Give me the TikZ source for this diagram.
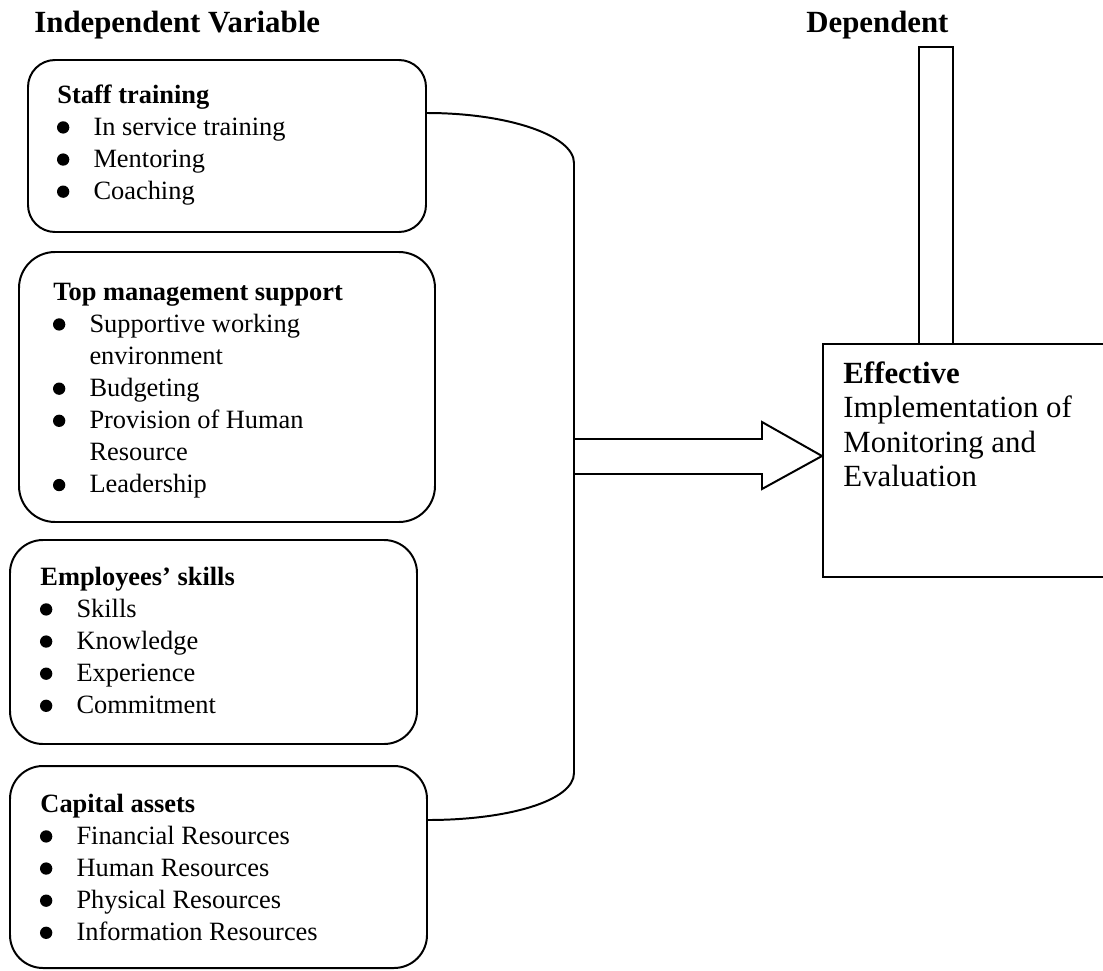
\documentclass[tikz,border=0pt]{standalone}
\usepackage{fontspec}
\setmainfont{Liberation Serif}
\usetikzlibrary{fit}
\newcommand\bul{\makebox[16.4pt][l]{\hspace{-0.2pt}\tikz[baseline=0pt,x=1pt,y=1pt]\fill (2.8,3.5) circle [radius=2.8];}}
\newcommand\lst[1]{\begin{tabular}[t]{@{}l@{}}#1\end{tabular}}
\begin{document}
\begin{tikzpicture}[x=0.4545pt,y=-0.4545pt,
  ln/.style={line width=0.9pt},
  box/.style={draw, ln, rounded corners=#1, inner sep=0pt},
  box/.default=12pt,
  plain/.style={draw, ln, inner sep=0pt},
  txt/.style={anchor=base west, inner sep=0pt, font=\fontsize{12pt}{14.6pt}\selectfont},
  big/.style={anchor=base west, inner sep=0pt, font=\fontsize{14pt}{15.7pt}\selectfont}]
\useasboundingbox (0,0) rectangle (1103,971);
\renewcommand\arraystretch{1}
% titles
\node[big] (tind) at (34,32) {\textbf{Independent Variable}};
\node[big] (tdep) at (806,32) {\textbf{Dependent}};
% boxes
\node[box=12.3pt, fit={(28,60)(426,232)}] (b1) {};
\node[box=16.4pt, fit={(19,252)(435,522)}] (b2) {};
\node[box=15pt, fit={(10,540)(417,744)}] (b3) {};
\node[box=15pt, fit={(10,766)(427,968)}] (b4) {};
% box texts
\node[txt] (t1) at (57,103) {\lst{\textbf{Staff training}\\
  \bul In service training\\ \bul Mentoring\\ \bul Coaching}};
\node[txt] (t2) at (53,300) {\lst{\textbf{Top management support}\\
  \bul Supportive working\\ \hspace{16.4pt}environment\\ \bul Budgeting\\
  \bul Provision of Human\\ \hspace{16.4pt}Resource\\ \bul Leadership}};
\node[txt] (t3) at (40,585) {\lst{\textbf{Employees’ skills}\\
  \bul Skills\\ \bul Knowledge\\ \bul Experience\\ \bul Commitment}};
\node[txt] (t4) at (40,812) {\lst{\textbf{Capital assets}\\
  \bul Financial Resources\\ \bul Human Resources\\ \bul Physical Resources\\ \bul Information Resources}};
% dependent box and bar
\node[plain, fill=white, fit={(919,47)(953,344)}] (bar) {};
\node[plain, fill=white, fit={(823,344)(1112,577)}] (dep) {};
\node[big] (tdv) at (843,383) {\lst{\textbf{Effective}\\ Implementation of\\ Monitoring and\\ Evaluation}};
% bracket
\coordinate (ct) at (426,113);
\coordinate (cb) at (427,820);
\draw[ln] (b1.east |- ct) .. controls (507.7,113) and (574,135.4) .. (574,163)
  -- (574,773) .. controls (574,800.9) and (507.7,820) .. (b4.east |- cb);
% arrow
\coordinate (tip) at (dep.west |- 0,456);
\draw[ln, line join=miter] (574,439) -- (762,439) -- (762,422) -- (tip)
  -- (762,489) -- (762,474) -- (574,474);
\end{tikzpicture}
\end{document}
